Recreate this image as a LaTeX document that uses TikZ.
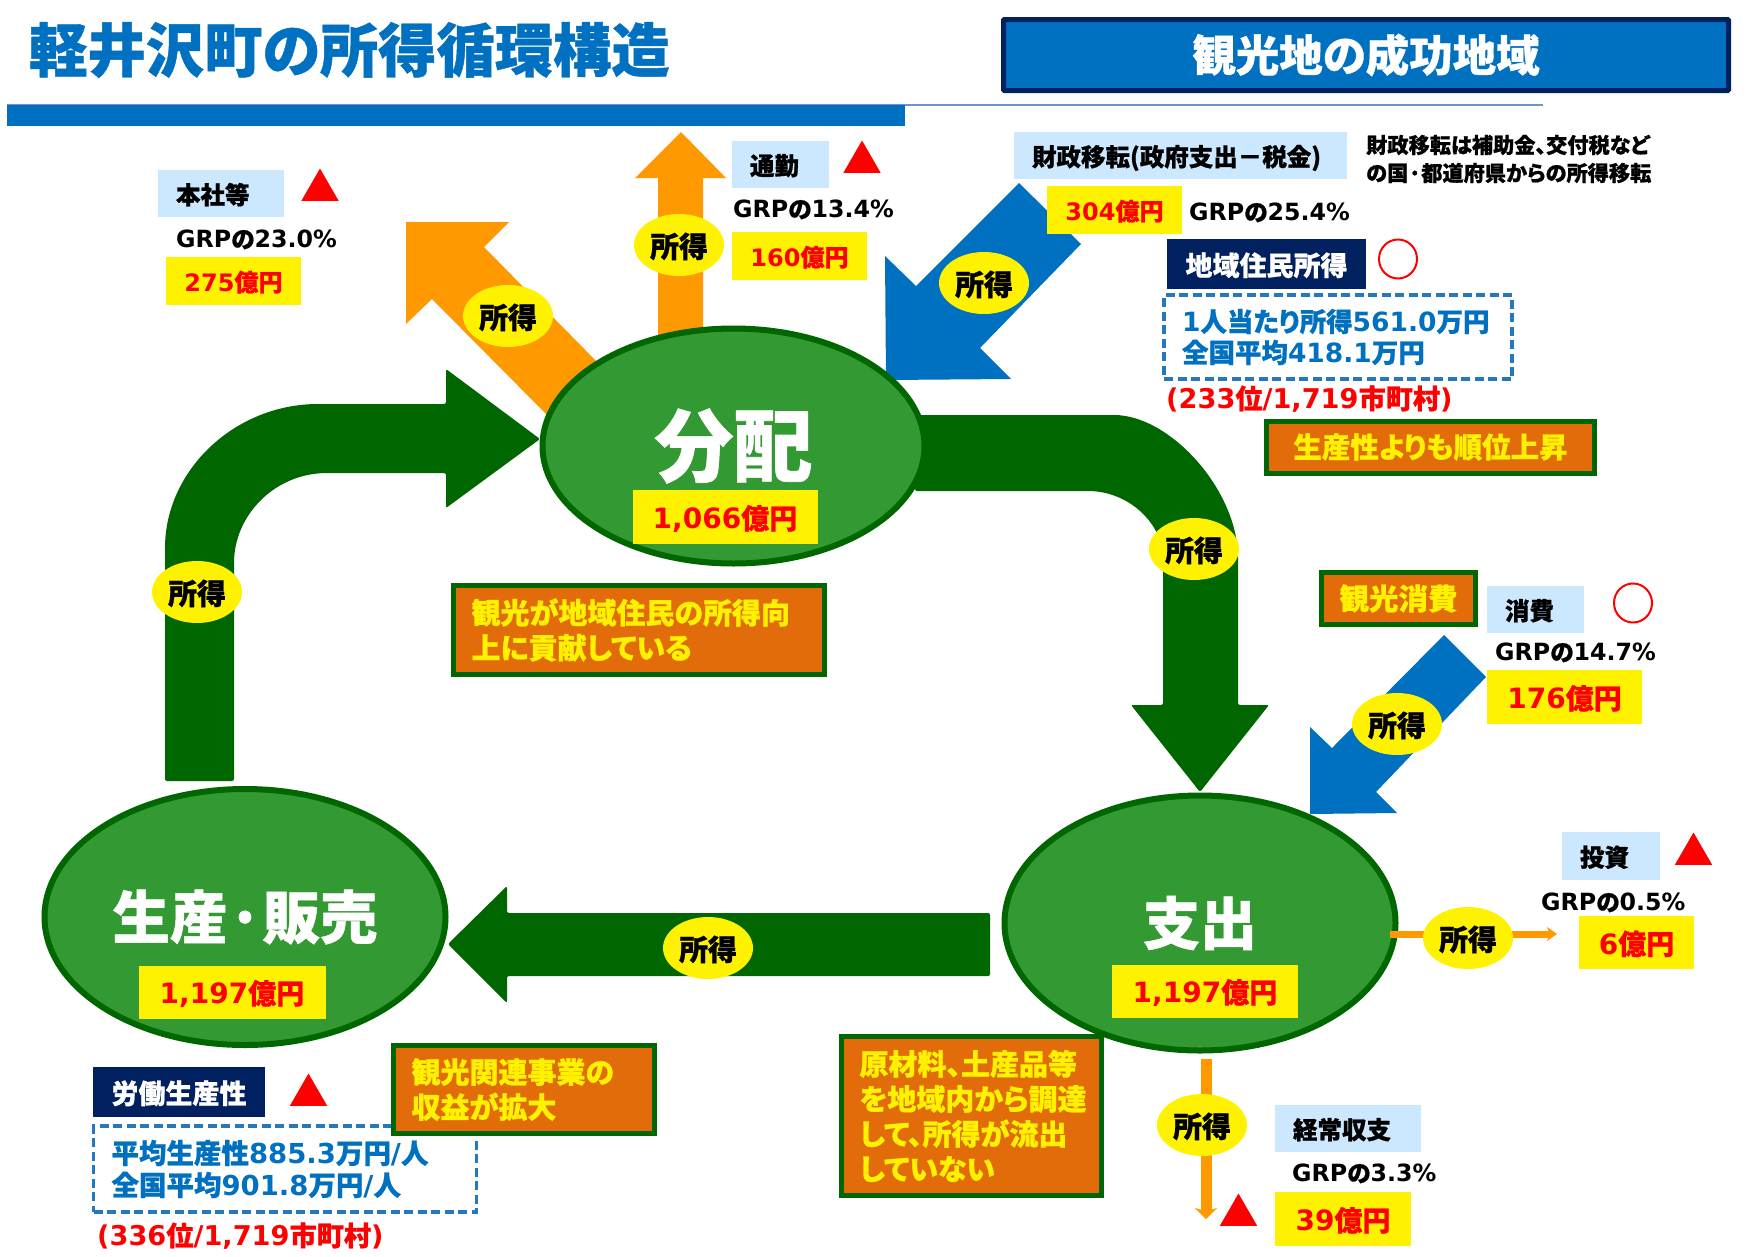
\documentclass[tikz,border=0pt]{standalone}
\usepackage{fontspec}
\setmainfont{Noto Sans CJK JP}[RawFeature=+palt, BoldFeatures={FakeBold=0.8}]
\newfontfamily\latfont{DejaVu Sans}
\usepackage{tikz}
\usetikzlibrary{
    positioning,
    arrows.meta,
    shapes.geometric
}
\newcommand{\fsz}[1]{\fontsize{#1}{#1}\selectfont}
\newcommand{\lt}[1]{{\latfont #1}}

\begin{document}
\begin{tikzpicture}[
    x=1pt, y=-1pt,
    font=\bfseries,
    stage/.style={
    	draw=my-darkgreen, fill=my-green, ellipse, line width=6,
    	inner sep=0, text=white
    }, income/.style={
    	ellipse, fill=yellow, minimum width=90, minimum height=62,
    	inner sep=0, text depth=0pt, font=\bfseries\fsz{29}
    }, value/.style={
    	fill=yellow, text=red, inner sep=0, text depth=0pt
    }, lightbox/.style={
    	fill=my-light, inner xsep=18, inner ysep=0, align=left,
    	text depth=0pt, font=\bfseries\fsz{24.5}
    }, navybox/.style={
    	fill=my-navy, text=white, inner sep=0, text depth=0pt,
    	font=\bfseries\fsz{27}
    }, dashbox/.style={
    	draw=my-dash, line width=3.2, dash pattern=on 9pt off 4.5pt,
    	inner xsep=18, inner ysep=0, align=left, text=my-blue,
    	font=\bfseries\fontsize{26.5}{31}\selectfont
    }, note/.style={
    	draw=my-darkgreen, fill=my-orange, line width=5, text=yellow,
    	inner xsep=18, inner ysep=0, align=left,
    	font=\bfseries\fontsize{29}{35}\selectfont
    }, grp/.style={
    	inner sep=0, anchor=west, text depth=0pt, font=\bfseries\fsz{23.7}
    }, rank/.style={
    	inner sep=0, anchor=west, text=red, font=\bfseries\fsz{27.2}
    }, down/.style={
    	fill=red, regular polygon, regular polygon sides=3,
    	minimum size=43, inner sep=0, outer sep=0
    }, ok/.style={
    	draw=red, ellipse, line width=2, minimum width=38, minimum height=39,
    	inner sep=0
    }, pil/.style={
    	-{Stealth[length=10pt,width=14pt,inset=3pt]}, draw=my-amber, line width=7
    }, pil2/.style={
    	-{Stealth[length=11pt,width=22pt,inset=3pt]}, draw=my-amber, line width=11
    }, bigarrow/.style={
    	fill=my-darkgreen, rounded corners=2pt
    }]
    \definecolor{my-blue}{RGB}{0, 112, 192}
    \definecolor{my-dash}{RGB}{38, 120, 190}
    \definecolor{my-line}{RGB}{111, 148, 200}
    \definecolor{my-navy}{RGB}{0, 32, 96}
    \definecolor{my-green}{RGB}{51, 153, 51}
    \definecolor{my-darkgreen}{RGB}{0, 102, 0}
    \definecolor{my-orange}{RGB}{227, 108, 10}
    \definecolor{my-amber}{RGB}{255, 153, 0}
    \definecolor{my-light}{RGB}{204, 232, 255}

    \useasboundingbox (0,0) rectangle (1748,1256);

    \node[inner sep=0, anchor=west, text=my-blue, font=\bfseries\fsz{58.3}] (title) at (29,50) {軽井沢町の所得循環構造};
    \fill[my-line] (7,104) rectangle (1543,106);
    \fill[my-blue] (7,105) rectangle (905,126);
    \node[draw=my-navy, fill=my-blue, line width=5, rounded corners=1pt, minimum width=725, minimum height=71, inner sep=0, text=white, font=\bfseries\fsz{43.5}] (region) at (1366,55) {観光地の成功地域};

    % arrows out of and into the ellipses
    \fill[my-amber] (681,132) -- (726,178) -- (703,178) -- (703,345) -- (658,345) -- (658,178) -- (635,178) -- cycle;
    \fill[my-amber] (406,222) -- (509,222) -- (484,247) -- (600,365) -- (547,415) -- (432,299) -- (406,324) -- cycle;
    \fill[my-blue] (1019,183) -- (1081,244) -- (980,348) -- (1011,379) -- (886,380) -- (885,256) -- (916,286) -- cycle;
    \fill[my-blue] (1444,635) -- (1486,677) -- (1376,792) -- (1397,813) -- (1310,814) -- (1310,727) -- (1332,748) -- cycle;

    \fill[bigarrow] (165,781) -- (165,550) .. controls (165,470) and (235,404) .. (320,404) -- (446,404) -- (446,369) -- (540,439) -- (446,508) -- (446,473) -- (329,473) .. controls (275,473) and (234,515) .. (234,565) -- (234,781) -- cycle;
    \fill[bigarrow] (915,415) -- (1112,415) .. controls (1170,415) and (1238,490) .. (1238,560) -- (1238,705) -- (1269,705) -- (1200,792) -- (1131,705) -- (1163,705) -- (1163,560) .. controls (1163,525) and (1130,491) .. (1086,491) -- (915,491) -- cycle;
    \fill[bigarrow] (448,944) -- (507,886) -- (507,913) -- (990,913) -- (990,976) -- (507,976) -- (507,1003) -- cycle;

    \node[stage, minimum width=382, minimum height=235, font=\bfseries\fsz{79}] (bunpai) at (733.5,446) {分配};
    \node[stage, minimum width=401, minimum height=256, font=\bfseries\fsz{57.5}] (seisan) at (245,917) {生産·販売};
    \node[stage, minimum width=391, minimum height=255, font=\bfseries\fsz{57}] (shishutsu) at (1200,923) {支出};

    \node[value, minimum width=185, minimum height=54, font=\bfseries\fsz{28}] (bunpai-val) at (725,517) {\lt{1,066}億円};
    \node[value, minimum width=187, minimum height=53, font=\bfseries\fsz{28}] (seisan-val) at (232,992) {\lt{1,197}億円};
    \node[value, minimum width=186, minimum height=53, font=\bfseries\fsz{28}] (shishutsu-val) at (1205,991) {\lt{1,197}億円};

    \coordinate (invest-start) at (1390,934);
    \coordinate (invest-end) at (1557,934);
    \coordinate (bop-start) at (1206,1059);
    \coordinate (bop-end) at (1206,1219);
    \draw[pil] (invest-start) -- (invest-end);
    \draw[pil2] (bop-start) -- (bop-end);

    \node[income] (inc-commute) at (679,245) {所得};
    \node[income] (inc-head) at (508,316) {所得};
    \node[income] (inc-fiscal) at (984,283) {所得};
    \node[income] (inc-spend) at (1194,549) {所得};
    \node[income] (inc-cons) at (1397,724) {所得};
    \node[income] (inc-prod) at (197,592) {所得};
    \node[income] (inc-sales) at (708,948) {所得};
    \node[income] (inc-invest) at (1468,938) {所得};
    \node[income] (inc-bop) at (1202,1125) {所得};

    % head office
    \node[lightbox, text width=90, minimum height=47] (head) at (221,193.5) {本社等};
    \node[down] (head-mark) at (320,190) {};
    \node[grp] (head-grp) at (176,239) {\lt{GRP}の\lt{23.0\%}};
    \node[value, minimum width=135, minimum height=48, font=\bfseries\fsz{24}] (head-val) at (233.5,281) {\lt{275}億円};

    % commuting
    \node[lightbox, text width=61, minimum height=47] (commute) at (780.5,164.5) {通勤};
    \node[down] (commute-mark) at (862,162) {};
    \node[grp] (commute-grp) at (733,209) {\lt{GRP}の\lt{13.4\%}};
    \node[value, minimum width=135, minimum height=48, font=\bfseries\fsz{24}] (commute-val) at (799.5,256) {\lt{160}億円};

    % fiscal transfer
    \node[value, minimum width=135, minimum height=48, font=\bfseries\fsz{24}] (fiscal-val) at (1114.5,210) {\lt{304}億円};
    \node[lightbox, text width=297, minimum height=47] (fiscal) at (1180.5,155.5) {財政移転(政府支出－税金)};
    \node[grp] (fiscal-grp) at (1189,212) {\lt{GRP}の\lt{25.4\%}};
    \node[inner sep=0, anchor=west, align=left, font=\bfseries\fontsize{21.2}{28}\selectfont] (fiscal-text) at (1366,159) {財政移転は補助金、交付税など\\の国·都道府県からの所得移転};

    % resident income
    \node[navybox, minimum width=199, minimum height=50] (resident) at (1266.5,264) {地域住民所得};
    \node[ok] (resident-mark) at (1398,259) {};
    \node[dashbox, text width=312, minimum height=84] (resident-box) at (1338,337) {\lt{1}人当たり所得\lt{561.0}万円\\全国平均\lt{418.1}万円};
    \node[rank] (resident-rank) at (1166,399) {\lt{(233}位\lt{/1,719}市町村\lt{)}};
    \node[note, minimum width=328, minimum height=52, inner xsep=0, font=\bfseries\fsz{28.5}] (resident-note) at (1430.5,447) {生産性よりも順位上昇};

    % consumption
    \node[note, minimum width=154, minimum height=52, inner xsep=0, font=\bfseries\fsz{29.5}] (cons-note) at (1398.5,598.5) {観光消費};
    \node[lightbox, text width=61, minimum height=47] (cons) at (1535.5,609.5) {消費};
    \node[ok] (cons-mark) at (1633,603) {};
    \node[grp] (cons-grp) at (1495,652) {\lt{GRP}の\lt{14.7\%}};
    \node[value, minimum width=155, minimum height=54, font=\bfseries\fsz{28}] (cons-val) at (1564.5,697) {\lt{176}億円};

    % investment
    \node[lightbox, text width=62, minimum height=48] (invest) at (1611,856) {投資};
    \node[down] (invest-mark) at (1693.5,854) {};
    \node[grp] (invest-grp) at (1541,902) {\lt{GRP}の\lt{0.5\%}};
    \node[value, minimum width=115, minimum height=53, font=\bfseries\fsz{28}] (invest-val) at (1636.5,942.5) {\lt{6}億円};

    % current account
    \node[lightbox, text width=110, minimum height=47] (bop) at (1348,1128.5) {経常収支};
    \node[down] (bop-mark) at (1238.5,1215) {};
    \node[grp] (bop-grp) at (1292,1173) {\lt{GRP}の\lt{3.3\%}};
    \node[value, minimum width=136, minimum height=54, font=\bfseries\fsz{28}] (bop-val) at (1343,1219) {\lt{39}億円};

    % labour productivity
    \node[navybox, minimum width=172, minimum height=50] (labour) at (179,1092) {労働生産性};
    \node[down] (labour-mark) at (308.5,1095) {};
    \node[dashbox, text width=347, minimum height=86, font=\bfseries\fontsize{27.5}{32}\selectfont] (labour-box) at (285,1169) {平均生産性\lt{885.3}万円\lt{/}人\\全国平均\lt{901.8}万円\lt{/}人};
    \node[rank] (labour-rank) at (97,1236) {\lt{(336}位\lt{/1,719}市町村\lt{)}};

    % remarks
    \node[note, text width=335, minimum height=89] (bunpai-note) at (639,630) {観光が地域住民の所得向\\上に貢献している};
    \node[note, text width=225, minimum height=88] (seisan-note) at (524,1089.5) {観光関連事業の\\収益が拡大};
    \node[note, text width=224, minimum height=159] (shishutsu-note) at (971.5,1116) {原材料、土産品等\\を地域内から調達\\して、所得が流出\\していない};

\end{tikzpicture}
\end{document}
